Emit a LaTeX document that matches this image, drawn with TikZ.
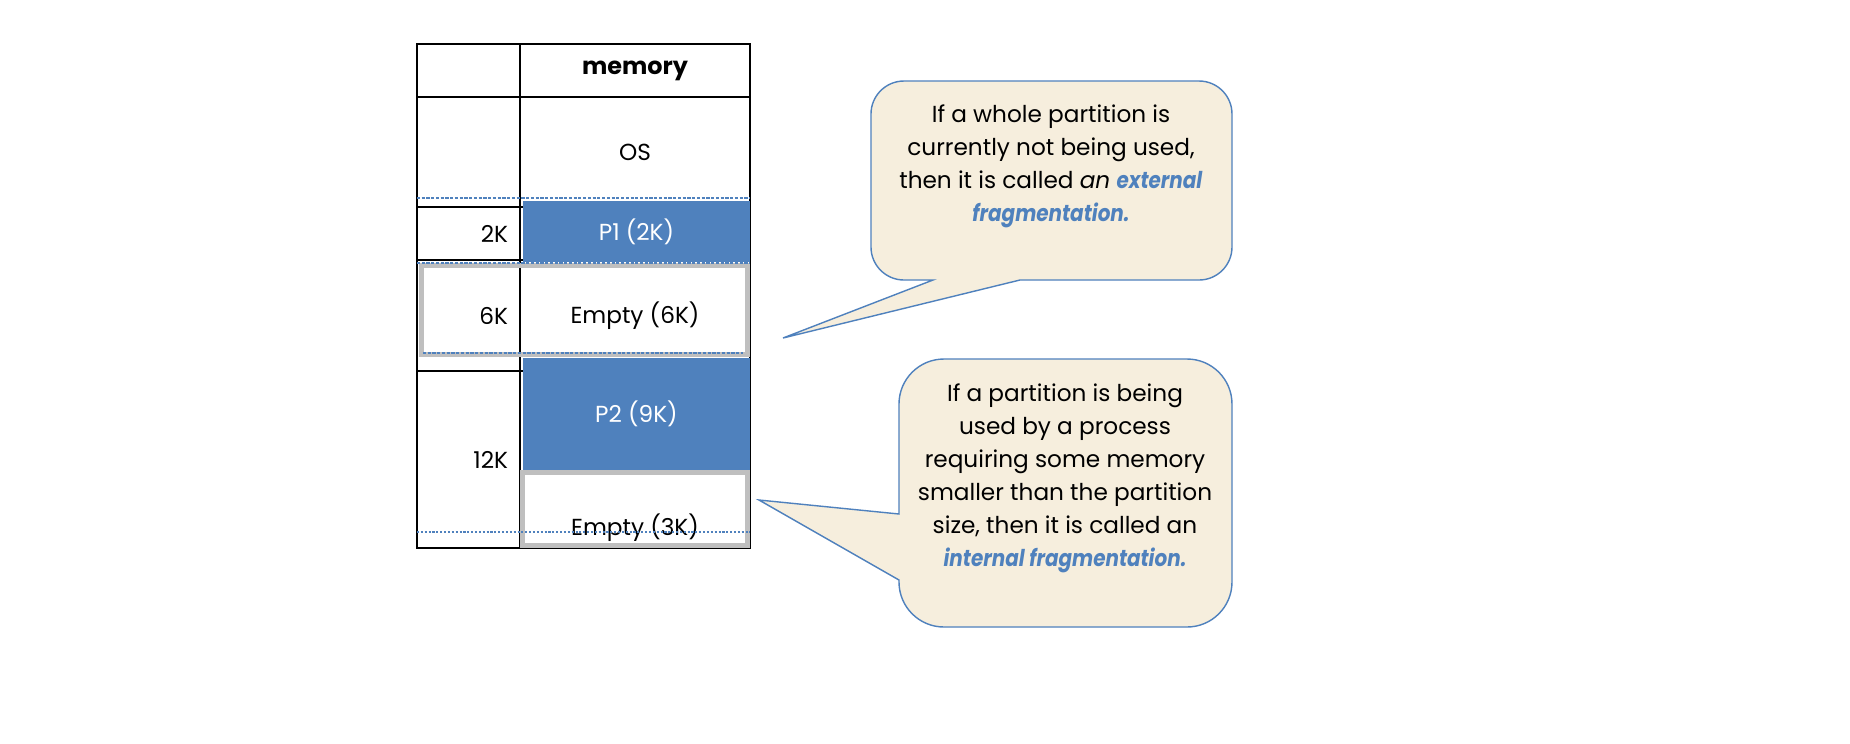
\documentclass[tikz,border=0pt]{standalone}
\usepackage{fontspec}
\setmainfont{Poppins}[BoldItalicFeatures={FakeStretch=0.86}]
\usetikzlibrary{positioning}

\definecolor{partblue}{HTML}{4F81BD}
\definecolor{notefill}{HTML}{F6EEDD}
\definecolor{emptygray}{HTML}{BFBFBF}

\begin{document}
\begin{tikzpicture}[
  x=0.1mm, y=-0.1mm,
  font=\fontsize{6.6}{9.4}\selectfont,
  numcell/.style={
    draw,
    line width=0.2mm,
    minimum width=10.3mm,
    text width=7.9mm,
    inner xsep=1.2mm,
    align=right
  },
  memcell/.style={draw, line width=0.2mm, minimum width=23mm},
  used/.style={fill=partblue, text=white, minimum width=22.7mm},
  free/.style={draw=emptygray, line width=0.5mm},
  note/.style={fill=notefill, draw=partblue, line width=0.4pt},
  notetext/.style={align=center},
  border/.style={draw=partblue, line width=0.35pt, dash pattern=on 0.9pt off 0.45pt}
]

\fill[white] (0,0) rectangle (1850,743);
\useasboundingbox (0,0) rectangle (1850,743);

% --- Memory table ---
\node[numcell, minimum height=5.3mm] (hdrnum) at (468.5,70.5) {};
\node[memcell, minimum height=5.3mm, font=\fontsize{6.8}{9.4}\selectfont\bfseries] (hdrmem) at (635,70.5) {memory};

\node[numcell, minimum height=11mm] (osnum) at (468.5,152) {};
\node[memcell, minimum height=11mm] (os) at (635,152) {OS};

\node[numcell, minimum height=5.3mm] (p1num) at (468.5,233.5) {2K};
\node[memcell, minimum height=5.3mm] (p1cell) at (635,233.5) {};

\node[numcell, minimum height=11.1mm] (gapnum) at (468.5,315.5) {6K};
\node[memcell, minimum height=11.1mm] (gapcell) at (635,315.5) {Empty (6K)};

\node[numcell, minimum height=17.7mm] (p2num) at (468.5,459.5) {12K};
\node[memcell, minimum height=17.7mm] (p2cell) at (635,459.5) {};

% --- Partitions ---
\node[used, minimum height=6.1mm] (p1) at (636.5,231.5) {P1 (2K)};
\node[used, minimum height=11.2mm] (p2) at (636.5,414) {P2 (9K)};

\node[free, minimum width=32.6mm, minimum height=8.9mm] (gap6) at (584.5,310) {};
\node[free, minimum width=22.5mm, minimum height=7.3mm] (gap3) at (635,509) {};
\node (gap3txt) at (635,528) {Empty (3K)};

% text box borders
\draw[border] (417,198) -- (750,198);
\draw[border] (417,263) -- (750,263);
\draw[border] (423,353) -- (743,353);
\draw[border, line width=0.25mm, dash pattern=on 0.6pt off 0.5pt] (417,532) -- (750,532);

% --- Notes ---
\coordinate (exttip) at (783,338);
\coordinate (inttip) at (759,500);

\draw[note] (1020,280) -- (1199,280) arc[start angle=270, end angle=360, radius=3.3mm]
  -- (1232,114) arc[start angle=0, end angle=90, radius=3.3mm]
  -- (904,81) arc[start angle=90, end angle=180, radius=3.3mm]
  -- (871,247) arc[start angle=180, end angle=270, radius=3.3mm]
  -- (933,280) -- (exttip) -- cycle;

\draw[note] (899,514) -- (899,404) arc[start angle=180, end angle=90, radius=4.5mm]
  -- (1187,359) arc[start angle=90, end angle=0, radius=4.5mm]
  -- (1232,582) arc[start angle=0, end angle=-90, radius=4.5mm]
  -- (944,627) arc[start angle=270, end angle=180, radius=4.5mm]
  -- (899,580) -- (inttip) -- cycle;

\node[notetext] (extnote) at (1051,166)
{If a whole partition is\\
currently not being used,\\
then it is called \textit{an} \textcolor{partblue}{\textbf{\textit{external}}}\\
\textcolor{partblue}{\textbf{\textit{fragmentation.}}}};

\node[notetext] (intnote) at (1065,478)
{If a partition is being\\
used by a process\\
requiring some memory\\
smaller than the partition\\
size, then it is called an\\
\textcolor{partblue}{\textbf{\textit{internal fragmentation.}}}};

\end{tikzpicture}
\end{document}
